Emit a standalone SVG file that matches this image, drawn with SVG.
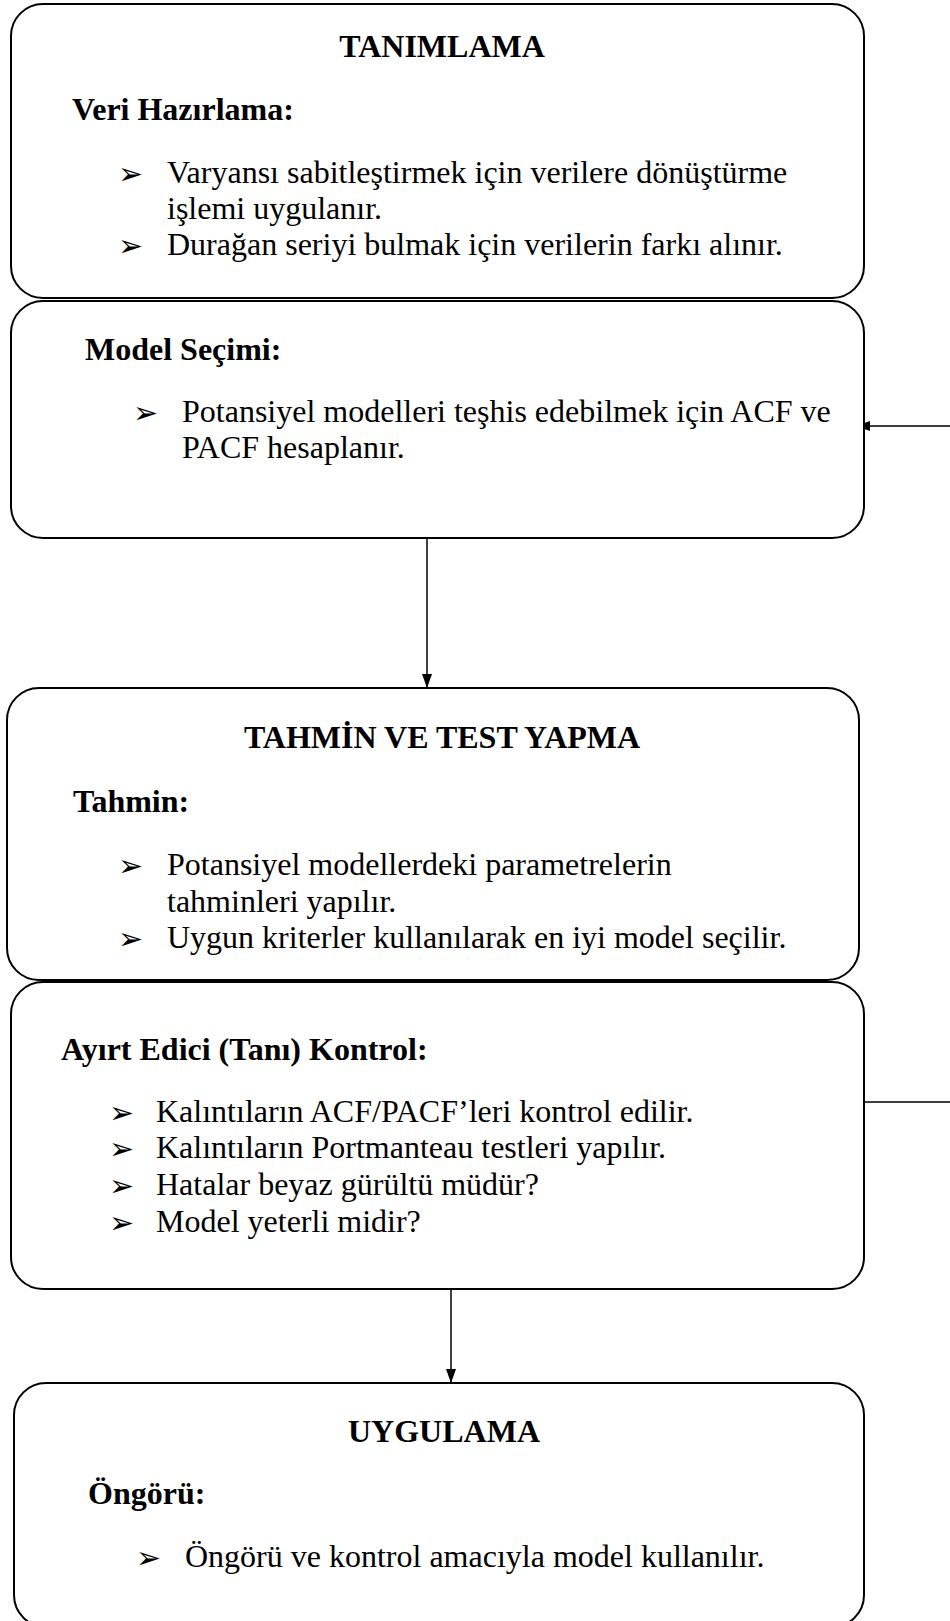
<svg xmlns="http://www.w3.org/2000/svg" width="950" height="1621" viewBox="0 0 950 1621">
<style>
.box{fill:#fff;stroke:#000;stroke-width:2}
.t{font-family:"Liberation Serif","Times New Roman",serif;font-size:32px;fill:#000}
.b{font-weight:bold}
.c{text-anchor:middle}
.bl{font-family:"DejaVu Sans",sans-serif;font-size:30px;font-weight:bold;fill:#000}
.con{fill:none;stroke:#000;stroke-width:1.5}
</style>
<defs>
<marker id="ah" viewBox="0 0 14 10" refX="14" refY="5" markerWidth="14" markerHeight="10" markerUnits="userSpaceOnUse" orient="auto">
<path d="M0,0 L14,5 L0,10 Z" fill="#000"/>
</marker>
</defs>
<g id="connectors">
<line class="con" x1="427" y1="538" x2="427" y2="688" marker-end="url(#ah)"/>
<line class="con" x1="451" y1="1289" x2="451" y2="1383" marker-end="url(#ah)"/>
<path class="con" d="M864,1102 H960 V426 H856" marker-end="url(#ah)"/>
</g>
<g id="tanimlama">
<rect class="box" x="11" y="4" width="853" height="294" rx="32" ry="32"/>
<text class="t b c" x="442" y="57">TANIMLAMA</text>
<text class="t b" x="72" y="120">Veri Hazırlama:</text>
<text class="bl" x="118" y="184">➢</text>
<text class="t" x="167" y="183">Varyansı sabitleştirmek için verilere dönüştürme</text>
<text class="t" x="167" y="219">işlemi uygulanır.</text>
<text class="bl" x="118" y="256">➢</text>
<text class="t" x="167" y="255">Durağan seriyi bulmak için verilerin farkı alınır.</text>
</g>
<g id="model-secimi">
<rect class="box" x="11" y="301" width="853" height="237" rx="32" ry="32"/>
<text class="t b" x="85" y="360">Model Seçimi:</text>
<text class="bl" x="133" y="423">➢</text>
<text class="t" x="182" y="422">Potansiyel modelleri teşhis edebilmek için ACF ve</text>
<text class="t" x="182" y="458">PACF hesaplanır.</text>
</g>
<g id="tahmin">
<rect class="box" x="7" y="688" width="852" height="292" rx="32" ry="32"/>
<text class="t b c" x="442" y="748">TAHMİN VE TEST YAPMA</text>
<text class="t b" x="73" y="812">Tahmin:</text>
<text class="bl" x="118" y="876">➢</text>
<text class="t" x="167" y="875">Potansiyel modellerdeki parametrelerin</text>
<text class="t" x="167" y="912">tahminleri yapılır.</text>
<text class="bl" x="118" y="949">➢</text>
<text class="t" x="167" y="948">Uygun kriterler kullanılarak en iyi model seçilir.</text>
</g>
<g id="ayirt-edici">
<rect class="box" x="11" y="982" width="853" height="307" rx="32" ry="32"/>
<text class="t b" x="61" y="1060">Ayırt Edici (Tanı) Kontrol:</text>
<text class="bl" x="109" y="1123">➢</text>
<text class="t" x="156" y="1122">Kalıntıların ACF/PACF’leri kontrol edilir.</text>
<text class="bl" x="109" y="1159">➢</text>
<text class="t" x="156" y="1158">Kalıntıların Portmanteau testleri yapılır.</text>
<text class="bl" x="109" y="1196">➢</text>
<text class="t" x="156" y="1195">Hatalar beyaz gürültü müdür?</text>
<text class="bl" x="109" y="1233">➢</text>
<text class="t" x="156" y="1232">Model yeterli midir?</text>
</g>
<g id="uygulama">
<rect class="box" x="14" y="1383" width="850" height="244" rx="32" ry="32"/>
<text class="t b c" x="444" y="1442">UYGULAMA</text>
<text class="t b" x="88" y="1504">Öngörü:</text>
<text class="bl" x="136" y="1568">➢</text>
<text class="t" x="185" y="1567">Öngörü ve kontrol amacıyla model kullanılır.</text>
</g>
</svg>
